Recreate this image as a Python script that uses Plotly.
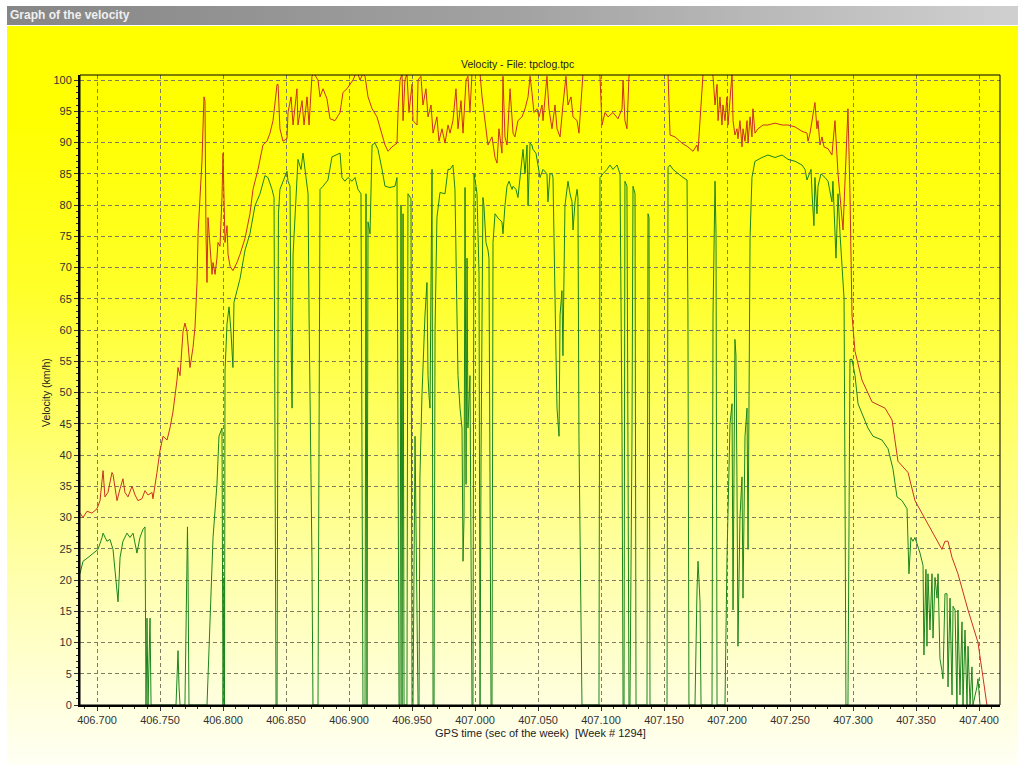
import base64
import plotly.graph_objects as go

# ---------------- data ----------------
red_t = [406.6865, 406.6889, 406.6921, 406.6960, 406.7000, 406.7024, 406.7048, 406.7063, 406.7087, 406.7119,
         406.7127, 406.7159, 406.7183, 406.7206, 406.7222, 406.7246, 406.7278, 406.7302, 406.7325, 406.7357,
         406.7381, 406.7405, 406.7437, 406.7444, 406.7476, 406.7500, 406.7524, 406.7556, 406.7579, 406.7603,
         406.7635, 406.7643, 406.7659, 406.7683, 406.7698, 406.7714, 406.7738, 406.7762, 406.7778, 406.7794,
         406.7802, 406.7833, 406.7849, 406.7857, 406.7865, 406.7873, 406.7881, 406.7897, 406.7913, 406.7921,
         406.7937, 406.7952, 406.7960, 406.7976, 406.7992, 406.8000, 406.8016, 406.8032, 406.8040, 406.8056,
         406.8079, 406.8111, 406.8135, 406.8175, 406.8214, 406.8238, 406.8278, 406.8317, 406.8349, 406.8373,
         406.8397, 406.8429, 406.8437, 406.8452, 406.8476, 406.8508, 406.8516, 406.8540, 406.8556, 406.8587,
         406.8595, 406.8627, 406.8643, 406.8667, 406.8683, 406.8706, 406.8722, 406.8754, 406.8770, 406.8794,
         406.8825, 406.8849, 406.8889, 406.8929, 406.8952, 406.8984, 406.9008, 406.9032, 406.9063, 406.9087,
         406.9111, 406.9127, 406.9151, 406.9183, 406.9222, 406.9262, 406.9286, 406.9310, 406.9341, 406.9381,
         406.9389, 406.9405, 406.9421, 406.9429, 406.9444, 406.9460, 406.9476, 406.9500, 406.9508, 406.9540,
         406.9548, 406.9571, 406.9587, 406.9611, 406.9627, 406.9651, 406.9667, 406.9698, 406.9714, 406.9738,
         406.9762, 406.9786, 406.9802, 406.9825, 406.9849, 406.9865, 406.9889, 406.9905, 406.9929, 406.9944,
         406.9960, 406.9976, 407.0040, 407.0056, 407.0079, 407.0103, 407.0135, 407.0159, 407.0175, 407.0190,
         407.0214, 407.0222, 407.0238, 407.0254, 407.0278, 407.0302, 407.0317, 407.0341, 407.0373, 407.0397,
         407.0421, 407.0437, 407.0452, 407.0468, 407.0492, 407.0508, 407.0532, 407.0540, 407.0571, 407.0587,
         407.0611, 407.0635, 407.0651, 407.0675, 407.0698, 407.0722, 407.0738, 407.0762, 407.0778, 407.0810,
         407.0825, 407.0841, 407.0857, 407.0984, 407.0992, 407.1008, 407.1032, 407.1056, 407.1095, 407.1135,
         407.1167, 407.1175, 407.1190, 407.1206, 407.1222, 407.1230, 407.1532, 407.1548, 407.1587, 407.1643,
         407.1690, 407.1730, 407.1762, 407.1770, 407.1802, 407.1810, 407.1881, 407.1889, 407.1905, 407.1921,
         407.1929, 407.1944, 407.1960, 407.1968, 407.1984, 407.2000, 407.2008, 407.2024, 407.2040, 407.2048,
         407.2063, 407.2079, 407.2087, 407.2103, 407.2119, 407.2127, 407.2143, 407.2159, 407.2167, 407.2183,
         407.2198, 407.2206, 407.2222, 407.2246, 407.2286, 407.2325, 407.2381, 407.2437, 407.2484, 407.2540,
         407.2595, 407.2635, 407.2643, 407.2659, 407.2675, 407.2698, 407.2714, 407.2722, 407.2738, 407.2754,
         407.2770, 407.2802, 407.2833, 407.2857, 407.2881, 407.2921, 407.2960, 407.2976, 407.2992, 407.3016,
         407.3071, 407.3151, 407.3254, 407.3310, 407.3357, 407.3437, 407.3492, 407.3627, 407.3675, 407.3706,
         407.3730, 407.3754, 407.3786, 407.3833, 407.3913, 407.3992, 407.4024, 407.4063]
red_v = [30.7, 30.0, 31.0, 30.7, 31.4, 32.7, 37.5, 33.3, 34.0, 37.2,
         36.9, 32.7, 34.6, 36.2, 34.0, 33.3, 35.0, 33.6, 32.7, 33.0,
         34.3, 33.6, 34.0, 33.0, 37.2, 40.7, 43.0, 42.4, 44.3, 46.9,
         52.0, 54.0, 52.7, 59.8, 61.1, 59.8, 54.0, 57.2, 60.5, 67.6,
         75.4, 87.0, 97.3, 96.7, 75.4, 67.6, 78.0, 72.8, 68.9, 70.8,
         68.9, 71.5, 74.0, 73.4, 81.2, 88.3, 74.0, 76.7, 72.1, 70.2,
         69.5, 70.8, 72.1, 74.7, 78.6, 82.5, 85.7, 89.6, 90.2, 91.5,
         93.5, 99.3, 99.3, 92.2, 90.2, 90.6, 94.8, 97.3, 92.8, 98.6,
         92.8, 96.7, 92.8, 97.3, 92.8, 100.6, 101.0, 100.0, 97.3, 98.6,
         97.0, 93.8, 93.5, 94.8, 98.0, 98.6, 99.3, 100.0, 101.5, 100.0,
         101.0, 100.6, 97.3, 95.4, 94.1, 91.5, 89.6, 88.6, 89.3, 89.9,
         94.8, 100.0, 101.0, 93.5, 100.0, 101.0, 94.8, 99.3, 93.5, 92.8,
         100.0, 100.6, 96.0, 98.6, 94.1, 96.0, 91.5, 94.1, 90.2, 92.2,
         89.9, 92.8, 91.5, 93.5, 98.6, 92.2, 96.7, 91.5, 100.0, 100.6,
         94.8, 101.0, 101.0, 97.3, 93.5, 89.6, 90.9, 87.6, 86.7, 92.2,
         88.3, 100.6, 90.9, 89.6, 98.6, 91.5, 90.9, 93.5, 94.1, 95.4,
         97.3, 100.6, 98.0, 94.8, 95.4, 94.1, 96.0, 93.5, 100.6, 95.4,
         92.2, 96.0, 92.2, 90.9, 96.0, 100.6, 96.0, 97.3, 94.1, 93.5,
         91.5, 96.0, 101.0, 101.0, 100.6, 92.8, 94.8, 94.1, 94.8, 93.8,
         95.4, 100.0, 93.5, 92.2, 100.6, 101.0, 101.0, 91.2, 90.9, 89.9,
         89.3, 88.6, 89.6, 88.6, 98.0, 101.0, 101.0, 100.6, 96.0, 99.3,
         93.5, 97.3, 92.8, 96.0, 93.5, 97.3, 92.8, 96.7, 101.0, 93.5,
         91.2, 92.2, 90.6, 93.5, 89.3, 92.2, 90.2, 93.5, 89.9, 94.1,
         90.9, 95.4, 91.5, 92.2, 92.8, 92.8, 93.1, 92.8, 92.8, 92.5,
         91.8, 91.5, 90.2, 91.5, 93.5, 96.4, 92.2, 93.5, 89.6, 90.9,
         89.3, 89.0, 88.0, 93.5, 85.0, 76.0, 95.4, 81.8, 62.4, 56.6,
         52.0, 48.5, 47.5, 45.6, 39.0, 37.2, 32.7, 27.8, 26.2, 24.9,
         26.2, 26.2, 23.6, 21.0, 15.2, 10.0, 5.5, 0.0]

green_t = [406.6865, 406.6889, 406.6929, 406.6968, 406.7008, 406.7040, 406.7048, 406.7079, 406.7103, 406.7127,
           406.7159, 406.7167, 406.7183, 406.7206, 406.7238, 406.7262, 406.7286, 406.7317, 406.7341, 406.7365,
           406.7381, 406.7389, 406.7397, 406.7405, 406.7421, 406.7429, 406.7627, 406.7635, 406.7643, 406.7651,
           406.7659, 406.7698, 406.7714, 406.7718, 406.7722, 406.7730, 406.7873, 406.7897, 406.7921, 406.7952,
           406.7968, 406.7992, 406.8000, 406.8008, 406.8012, 406.8016, 406.8032, 406.8048, 406.8063, 406.8079,
           406.8087, 406.8111, 406.8135, 406.8175, 406.8214, 406.8254, 406.8294, 406.8333, 406.8357, 406.8389,
           406.8405, 406.8421, 406.8429, 406.8437, 406.8440, 406.8452, 406.8476, 406.8508, 406.8516, 406.8532,
           406.8540, 406.8548, 406.8556, 406.8587, 406.8595, 406.8619, 406.8635, 406.8659, 406.8675, 406.8683,
           406.8690, 406.8698, 406.8706, 406.8714, 406.8754, 406.8762, 406.8770, 406.8794, 406.8833, 406.8865,
           406.8905, 406.8929, 406.8944, 406.8968, 406.8992, 406.9024, 406.9048, 406.9071, 406.9095, 406.9103,
           406.9111, 406.9127, 406.9135, 406.9143, 406.9151, 406.9167, 406.9175, 406.9183, 406.9206, 406.9230,
           406.9262, 406.9286, 406.9325, 406.9365, 406.9381, 406.9389, 406.9397, 406.9405, 406.9413, 406.9421,
           406.9429, 406.9437, 406.9460, 406.9468, 406.9492, 406.9500, 406.9508, 406.9524, 406.9540, 406.9548,
           406.9556, 406.9563, 406.9579, 406.9603, 406.9619, 406.9627, 406.9635, 406.9643, 406.9651, 406.9659,
           406.9667, 406.9675, 406.9683, 406.9698, 406.9722, 406.9762, 406.9786, 406.9802, 406.9825, 406.9841,
           406.9857, 406.9865, 406.9881, 406.9897, 406.9905, 406.9913, 406.9921, 406.9929, 406.9937, 406.9944,
           406.9960, 406.9968, 406.9976, 406.9984, 406.9992, 407.0008, 407.0016, 407.0032, 407.0036, 407.0040,
           407.0048, 407.0063, 407.0071, 407.0087, 407.0103, 407.0111, 407.0119, 407.0127, 407.0135, 407.0143,
           407.0159, 407.0183, 407.0214, 407.0222, 407.0238, 407.0254, 407.0270, 407.0294, 407.0302, 407.0325,
           407.0341, 407.0357, 407.0373, 407.0381, 407.0397, 407.0413, 407.0421, 407.0437, 407.0452, 407.0460,
           407.0484, 407.0500, 407.0516, 407.0540, 407.0571, 407.0579, 407.0595, 407.0611, 407.0619, 407.0643,
           407.0651, 407.0667, 407.0675, 407.0690, 407.0698, 407.0714, 407.0730, 407.0738, 407.0754, 407.0770,
           407.0778, 407.0794, 407.0810, 407.0817, 407.0825, 407.0841, 407.0849, 407.0984, 407.0992, 407.1016,
           407.1048, 407.1071, 407.1095, 407.1127, 407.1151, 407.1167, 407.1175, 407.1183, 407.1190, 407.1206,
           407.1214, 407.1222, 407.1230, 407.1246, 407.1254, 407.1270, 407.1278, 407.1365, 407.1373, 407.1381,
           407.1389, 407.1524, 407.1532, 407.1548, 407.1571, 407.1611, 407.1651, 407.1683, 407.1690, 407.1698,
           407.1746, 407.1762, 407.1770, 407.1786, 407.1794, 407.1881, 407.1889, 407.1905, 407.1913, 407.1921,
           407.1984, 407.2000, 407.2024, 407.2040, 407.2048, 407.2063, 407.2071, 407.2079, 407.2087, 407.2103,
           407.2119, 407.2127, 407.2143, 407.2159, 407.2167, 407.2175, 407.2183, 407.2198, 407.2222, 407.2278,
           407.2325, 407.2381, 407.2437, 407.2484, 407.2540, 407.2595, 407.2619, 407.2635, 407.2643, 407.2667,
           407.2675, 407.2690, 407.2698, 407.2714, 407.2722, 407.2746, 407.2778, 407.2802, 407.2833, 407.2841,
           407.2865, 407.2881, 407.2897, 407.2913, 407.2929, 407.2937, 407.2944, 407.2960, 407.2976, 407.2992,
           407.3016, 407.3040, 407.3079, 407.3119, 407.3159, 407.3230, 407.3278, 407.3317, 407.3349, 407.3389,
           407.3429, 407.3444, 407.3460, 407.3476, 407.3492, 407.3532, 407.3556, 407.3563, 407.3579, 407.3587,
           407.3595, 407.3611, 407.3627, 407.3635, 407.3651, 407.3667, 407.3675, 407.3690, 407.3706, 407.3714,
           407.3730, 407.3746, 407.3754, 407.3770, 407.3786, 407.3794, 407.3810, 407.3825, 407.3833, 407.3849,
           407.3865, 407.3873, 407.3889, 407.3905, 407.3913, 407.3929, 407.3944, 407.3952, 407.3984, 407.3992,
           407.4008]
green_v = [21.0, 23.0, 23.6, 24.3, 24.9, 26.8, 27.5, 26.2, 26.5, 24.9,
           17.1, 16.5, 23.6, 26.2, 27.5, 26.8, 27.5, 24.3, 26.8, 28.1,
           28.5, 0.0, 13.9, 0.0, 13.9, 0.0, 0.0, 6.1, 8.7, 2.9,
           0.0, 0.0, 21.0, 28.5, 22.3, 0.0, 0.0, 13.9, 26.8, 35.3,
           43.0, 44.3, 0.0, 20.4, 0.0, 53.4, 61.0, 63.7, 59.8, 54.0,
           64.4, 66.3, 68.2, 72.8, 75.4, 79.9, 81.8, 84.7, 84.4, 82.5,
           81.2, 0.0, 0.0, 61.0, 78.6, 82.5, 83.8, 85.4, 83.8, 83.0,
           59.0, 47.5, 72.0, 83.0, 87.3, 85.7, 88.3, 84.4, 81.8, 62.4,
           44.3, 37.2, 23.6, 0.0, 0.0, 49.5, 82.5, 83.0, 84.0, 87.7,
           88.0, 88.3, 84.4, 83.8, 84.4, 83.8, 84.4, 82.5, 81.8, 40.4,
           0.0, 0.0, 81.8, 0.0, 77.3, 75.4, 81.8, 89.6, 89.9, 88.9,
           85.7, 83.0, 82.8, 83.0, 84.4, 39.8, 0.0, 0.0, 80.0, 0.0,
           78.6, 0.0, 0.0, 81.8, 81.0, 0.0, 0.0, 43.0, 17.0, 0.0,
           0.0, 36.5, 49.5, 62.4, 67.6, 52.7, 49.5, 47.5, 67.6, 85.7,
           0.0, 0.0, 60.0, 78.0, 82.0, 81.8, 85.7, 85.7, 86.4, 82.5,
           62.4, 52.7, 47.5, 44.3, 23.0, 30.0, 82.8, 35.3, 71.5, 44.3,
           52.7, 26.8, 0.0, 0.0, 85.0, 83.0, 81.8, 68.9, 0.0, 0.0,
           39.8, 81.2, 79.9, 74.0, 72.8, 71.5, 36.5, 0.0, 0.0, 74.0,
           78.6, 77.9, 77.3, 75.4, 79.9, 83.0, 83.8, 82.5, 83.0, 82.5,
           81.2, 84.4, 86.4, 88.9, 85.0, 89.6, 79.9, 89.9, 89.6, 88.9,
           88.3, 86.4, 84.4, 85.7, 85.0, 80.5, 85.0, 85.0, 84.4, 55.9,
           47.5, 43.0, 62.4, 66.3, 55.9, 79.9, 82.5, 83.8, 81.8, 80.5,
           76.0, 80.5, 82.5, 81.2, 43.0, 12.0, 0.0, 0.0, 84.4, 85.0,
           85.7, 86.4, 85.7, 86.4, 85.0, 43.0, 0.0, 0.0, 83.8, 83.0,
           36.5, 0.0, 0.0, 43.0, 83.0, 81.8, 0.0, 0.0, 78.6, 78.0,
           0.0, 0.0, 86.0, 86.4, 85.7, 85.0, 84.4, 84.0, 62.4, 0.0,
           0.0, 18.4, 23.0, 16.5, 0.0, 0.0, 62.4, 83.8, 75.4, 0.0,
           0.0, 23.6, 45.0, 48.2, 15.2, 58.5, 56.0, 36.5, 9.4, 30.0,
           36.5, 17.1, 43.0, 47.5, 24.9, 49.5, 74.7, 84.4, 87.0, 87.6,
           88.0, 87.6, 88.0, 87.3, 87.0, 86.4, 85.7, 84.0, 84.4, 85.7,
           81.8, 76.7, 84.4, 78.6, 83.0, 85.0, 84.4, 83.8, 80.5, 83.8,
           71.5, 81.8, 75.4, 70.8, 65.0, 33.3, 0.0, 0.0, 55.3, 55.3,
           52.7, 48.2, 46.2, 44.3, 43.0, 42.4, 41.0, 37.8, 33.3, 32.7,
           31.4, 21.0, 26.8, 26.2, 26.8, 24.3, 22.3, 8.0, 21.7, 9.4,
           21.0, 12.0, 21.0, 10.7, 20.4, 17.1, 21.0, 7.4, 5.5, 4.2,
           17.8, 17.8, 2.9, 17.1, 1.6, 15.8, 15.2, 0.0, 15.2, 1.6,
           13.3, 0.0, 12.0, 0.0, 9.4, 0.0, 6.1, 0.0, 2.9, 4.2,
           0.0]

x_range = [406.68651, 407.41667]
y_range = [0, 100.8]

# ---------------- figure geometry ----------------
W, H = 1018, 765
L, R, T, B = 80, 18, 75, 60
PW, PH = W - L - R, H - T - B


def px_x(px):
    return (px - L) / PW


def px_y(py):
    return (H - B - py) / PH


def svg_uri(stops, vertical=True):
    x2, y2 = ("0", "1") if vertical else ("1", "0")
    st = "".join(f'<stop offset="{o}" stop-color="{c}"/>' for o, c in stops)
    svg = (f'<svg xmlns="http://www.w3.org/2000/svg" width="100" height="100" viewBox="0 0 100 100" '
           f'preserveAspectRatio="none"><defs><linearGradient id="g" x1="0" y1="0" x2="{x2}" y2="{y2}">'
           f'{st}</linearGradient></defs><rect x="0" y="0" width="100" height="100" fill="url(#g)"/></svg>')
    return "data:image/svg+xml;base64," + base64.b64encode(svg.encode()).decode()


yellow = svg_uri([(0, "#ffff00"), (0.12, "#ffff00"), (0.35, "#ffff28"), (0.55, "#ffff6a"),
                  (0.75, "#ffffae"), (0.9, "#ffffda"), (1, "#fffff4")])
graybar = svg_uri([(0, "#868686"), (0.5, "#a2a2a2"), (1, "#d0d0d0")], vertical=False)

fig = go.Figure()
fig.add_trace(go.Scatter(x=red_t, y=red_v, mode="lines", line=dict(color="#cc3020", width=1),
                         hoverinfo="skip"))
fig.add_trace(go.Scatter(x=green_t, y=green_v, mode="lines", line=dict(color="#1c841c", width=1),
                         hoverinfo="skip"))

font = "Liberation Sans, Arial, sans-serif"
fig.update_layout(
    width=W, height=H, margin=dict(l=L, r=R, t=T, b=B, pad=0),
    paper_bgcolor="white", plot_bgcolor="rgba(0,0,0,0)", showlegend=False,
    font=dict(family=font, size=11, color="#222222"),
    images=[
        dict(source=yellow, xref="paper", yref="paper", x=px_x(7), y=px_y(26),
             sizex=(W - 7) / PW, sizey=(H - 26) / PH, xanchor="left", yanchor="top",
             sizing="stretch", layer="below"),
        dict(source=graybar, xref="paper", yref="paper", x=px_x(7), y=px_y(6),
             sizex=(W - 7) / PW, sizey=19 / PH, xanchor="left", yanchor="top",
             sizing="stretch", layer="below"),
    ],
    annotations=[
        dict(text="<b>Graph of the velocity</b>", xref="paper", yref="paper", x=px_x(8), y=px_y(15.5),
             xanchor="left", yanchor="middle", showarrow=False,
             font=dict(family=font, size=12, color="#f0f0f0")),
        dict(text="Velocity - File: tpclog.tpc", xref="paper", yref="paper", x=px_x(517), y=px_y(64),
             xanchor="center", yanchor="middle", showarrow=False,
             font=dict(family=font, size=10.5, color="#222222")),
        dict(text="Velocity (km/h)", xref="paper", yref="paper", x=px_x(46), y=px_y(393),
             xanchor="center", yanchor="middle", textangle=-90, showarrow=False,
             font=dict(family=font, size=10.5, color="#222222")),
        dict(text="GPS time (sec of the week)\u00a0 [Week # 1294]", xref="paper", yref="paper",
             x=px_x(540), y=px_y(733), xanchor="center", yanchor="middle", showarrow=False,
             font=dict(family=font, size=11, color="#222222")),
    ],
    shapes=[
        dict(type="rect", xref="paper", yref="paper", x0=0, x1=1, y0=0, y1=1,
             line=dict(color="black", width=1), layer="above"),
    ],
)

grid_col = "#7d7d62"
fig.update_xaxes(
    range=x_range, tick0=406.7, dtick=0.05, tickformat=".3f",
    ticks="outside", ticklen=4, tickcolor="#333333",
    showline=True, linewidth=2, linecolor="black", zeroline=False,
    showgrid=True, gridcolor=grid_col, gridwidth=1, griddash="4px,3px",
    tickfont=dict(family=font, size=11, color="#333333"),
    minor=dict(dtick=0.01, ticks="outside", ticklen=2, tickcolor="#333333", showgrid=False),
)
fig.update_yaxes(
    range=y_range, tick0=0, dtick=5,
    ticks="outside", ticklen=4, tickcolor="#333333",
    showline=True, linewidth=2, linecolor="black", zeroline=False,
    showgrid=True, gridcolor=grid_col, gridwidth=1, griddash="4px,3px",
    tickfont=dict(family=font, size=11, color="#333333"),
    minor=dict(dtick=1, ticks="outside", ticklen=2, tickcolor="#333333", showgrid=False),
)

fig.write_html("out.html")
